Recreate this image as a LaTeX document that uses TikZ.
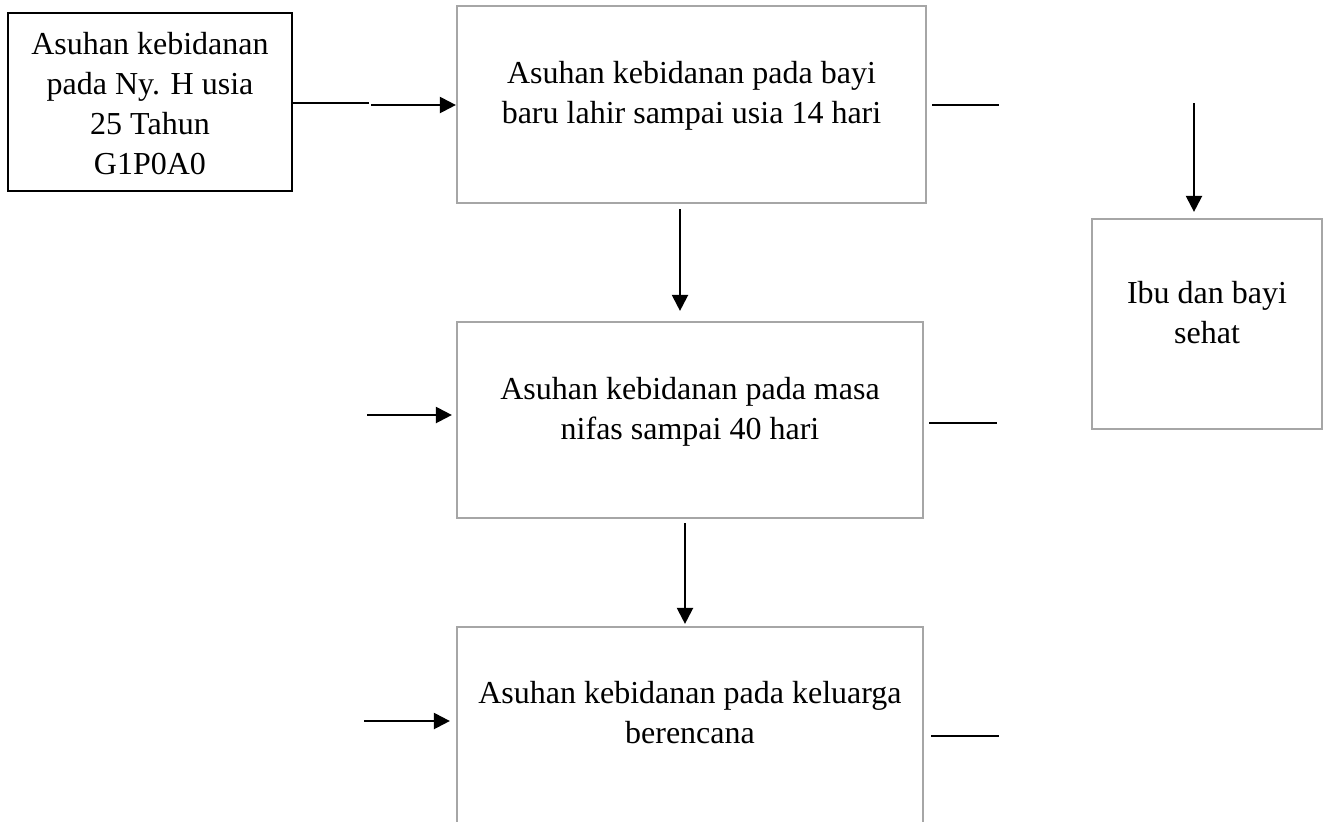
\documentclass[tikz,border=0pt]{standalone}
\usepackage{fontspec}
\setmainfont{Liberation Serif}
\usetikzlibrary{arrows.meta,calc}
\definecolor{bordergray}{HTML}{A6A6A6}
\begin{document}
\begin{tikzpicture}[x=0.5pt,y=-0.5pt,
  boxblack/.style={draw=black,line width=1.1pt,rectangle,inner sep=0pt},
  boxgray/.style={draw=bordergray,line width=1.1pt,rectangle,inner sep=0pt},
  txt/.style={font=\fontsize{16}{20}\selectfont,align=center,inner sep=0pt},
  thinline/.style={line width=0.65pt,black},
  arr/.style={line width=1.1pt,black,-{Triangle[length=8pt,width=8pt]}}]
\useasboundingbox (0,0) rectangle (1323,821);
\clip (0,0) rectangle (1323,821);
% boxes
\node[boxblack,minimum width=142pt,minimum height=89pt] (A) at (150,102) {};
\node[txt] (At) at (150,106) {\strut Asuhan kebidanan\\pada Ny. H usia\\25 Tahun\\G1P0A0\strut};
\node[boxgray,minimum width=234.5pt,minimum height=98.5pt] (B) at (691.5,104.5) {};
\node[txt] (Bt) at (691.5,95) {\strut Asuhan kebidanan pada bayi\\baru lahir sampai usia 14 hari\strut};
\node[boxgray,minimum width=115pt,minimum height=105pt] (C) at (1207,324) {};
\node[txt] (Ct) at (1207,315) {\strut Ibu dan bayi\\sehat\strut};
\node[boxgray,minimum width=233pt,minimum height=98pt] (D) at (690,420) {};
\node[txt] (Dt) at (690,411) {\strut Asuhan kebidanan pada masa\\nifas sampai 40 hari\strut};
\node[boxgray,minimum width=233pt,minimum height=111.5pt] (E) at (690,738.5) {};
\node[txt] (Et) at (690,715.5) {\strut Asuhan kebidanan pada keluarga\\berencana\strut};
% coordinates for free ends
\coordinate (a1) at (369,103);
\coordinate (a2) at (371,105);
\coordinate (xBD) at (680,0);
\coordinate (xDE) at (685,0);
\coordinate (cTop) at (1194,103);
\coordinate (dIn) at (367,415);
\coordinate (eIn) at (364,721);
\coordinate (bOut) at (999,105);
\coordinate (dOut) at (997,423);
\coordinate (eOut) at (999,736);
% connectors
\draw[thinline] (A.east |- a1) -- (a1);
\draw[arr] (a2) -- (a2 -| B.west);
\draw[arr,shorten <=2.5pt,shorten >=5pt] (xBD |- B.south) -- (xBD |- D.north);
\draw[arr,shorten <=2pt,shorten >=1pt] (xDE |- D.south) -- (xDE |- E.north);
\draw[arr,shorten >=3pt] (cTop) -- (cTop |- C.north);
\draw[arr,shorten >=2pt] (dIn) -- (dIn -| D.west);
\draw[arr,shorten >=3pt] (eIn) -- (eIn -| E.west);
\draw[thinline,shorten <=2.5pt] (bOut -| B.east) -- (bOut);
\draw[thinline,shorten <=2.5pt] (dOut -| D.east) -- (dOut);
\draw[thinline,shorten <=3.5pt] (eOut -| E.east) -- (eOut);
\end{tikzpicture}
\end{document}
